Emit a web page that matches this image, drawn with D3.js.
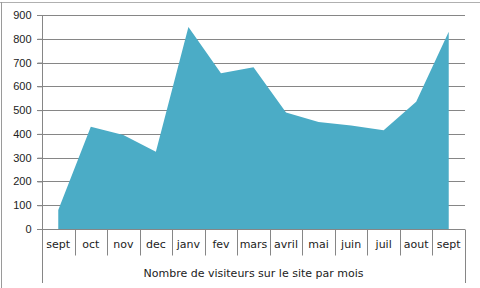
<!DOCTYPE html>
<html>
<head>
<meta charset="utf-8">
<script src="https://cdn.jsdelivr.net/npm/d3@7"></script>
<style>
  body { margin: 0; background: #fff; }
  svg { display: block; font-family: "DejaVu Sans", Verdana, sans-serif; }
</style>
</head>
<body>
<svg id="chart" width="480" height="288"></svg>
<script>
const months = ["sept", "oct", "nov", "dec", "janv", "fev", "mars", "avril", "mai", "juin", "juil", "aout", "sept"];
const visitors = [80, 430, 395, 325, 850, 655, 680, 490, 450, 435, 415, 535, 830];
const yTicks = [0, 100, 200, 300, 400, 500, 600, 700, 800, 900];
const axisTitle = "Nombre de visiteurs sur le site par mois";

const margin = { top: 15, right: 15, bottom: 59, left: 42 };
const width = 480, height = 288;
const svg = d3.select("#chart");
const ink = "#868686";

// outer frame of the chart object
svg.append("line").attr("x1", 0).attr("x2", width).attr("y1", 2.5).attr("y2", 2.5)
  .attr("stroke", "#b0b0b0");
svg.append("line").attr("x1", 1.5).attr("x2", 1.5).attr("y1", 2).attr("y2", height)
  .attr("stroke", "#9a9a9a");

const idx = months.map((d, i) => i);
const x = d3.scaleBand().domain(idx).range([margin.left, width - margin.right]);
const y = d3.scaleLinear().domain([0, 900]).range([height - margin.bottom, margin.top]);

// gridlines
svg.append("g").selectAll("line")
  .data(yTicks.filter(d => d > 0))
  .join("line")
  .attr("x1", margin.left - 5).attr("x2", width - margin.right)
  .attr("y1", d => Math.round(y(d)) + 0.5).attr("y2", d => Math.round(y(d)) + 0.5)
  .attr("stroke", ink);

// area
const area = d3.area()
  .x((d, i) => x(i) + x.bandwidth() / 2)
  .y0(y(0))
  .y1(d => y(d));
svg.append("path").datum(visitors).attr("d", area).attr("fill", "#4bacc6");

// y axis
const yAxis = svg.append("g")
  .attr("transform", `translate(${margin.left + 0.5},0)`)
  .call(d3.axisLeft(y).tickValues(yTicks).tickSize(5).tickPadding(6).tickFormat(d3.format("d")));
yAxis.select(".domain").attr("stroke", ink).attr("d", `M0,${y(900)}V${height - 5}`);
yAxis.selectAll(".tick line").attr("stroke", ink);
yAxis.selectAll(".tick text").attr("fill", "#222").attr("font-size", 11);

// x axis (category table)
const base = Math.round(y(0)) + 0.5;
svg.append("line").attr("x1", margin.left - 5).attr("x2", width - margin.right)
  .attr("y1", base).attr("y2", base).attr("stroke", ink);
const xg = svg.append("g");
xg.selectAll("line")
  .data(idx.slice(1))
  .join("line")
  .attr("x1", d => Math.round(x(d)) + 0.5).attr("x2", d => Math.round(x(d)) + 0.5)
  .attr("y1", base).attr("y2", base + 26)
  .attr("stroke", ink);
svg.append("line")
  .attr("x1", Math.round(x.range()[1]) + 0.5).attr("x2", Math.round(x.range()[1]) + 0.5)
  .attr("y1", base).attr("y2", height - 5).attr("stroke", ink);
xg.selectAll("text")
  .data(idx)
  .join("text")
  .attr("x", d => x(d) + x.bandwidth() / 2)
  .attr("y", base + 18)
  .attr("text-anchor", "middle")
  .attr("font-size", 11)
  .attr("fill", "#222")
  .text(d => months[d]);

svg.append("text")
  .attr("x", (margin.left + width - margin.right) / 2)
  .attr("y", base + 47)
  .attr("text-anchor", "middle")
  .attr("font-size", 11)
  .attr("fill", "#222")
  .text(axisTitle);
</script>
</body>
</html>
